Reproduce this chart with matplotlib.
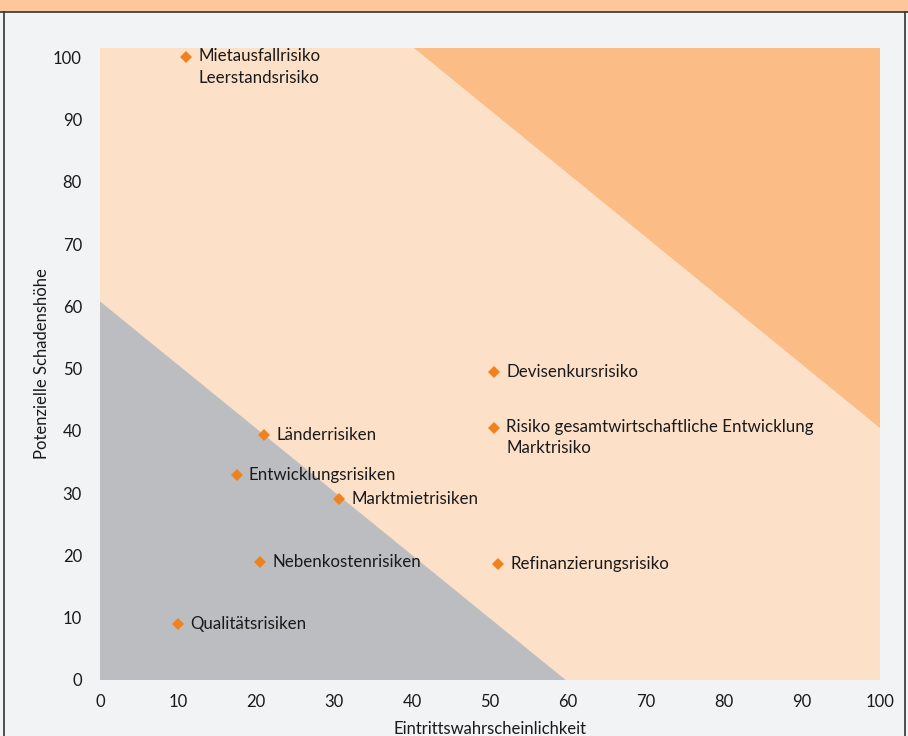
import matplotlib.pyplot as plt
from matplotlib.patches import Polygon, Rectangle
from matplotlib.lines import Line2D

# Risk matrix data
labels = [
    "Mietausfallrisiko\nLeerstandsrisiko",
    "Devisenkursrisiko",
    "Risiko gesamtwirtschaftliche Entwicklung\nMarktrisiko",
    "Länderrisiken",
    "Entwicklungsrisiken",
    "Marktmietrisiken",
    "Nebenkostenrisiken",
    "Refinanzierungsrisiko",
    "Qualitätsrisiken",
]
probability = [11, 50.5, 50.5, 21, 17.5, 30.7, 20.5, 51, 10]
damage = [100, 49.5, 40.5, 39.3, 33, 29, 19, 18.7, 9]

x_ticks = [0, 10, 20, 30, 40, 50, 60, 70, 80, 90, 100]
y_ticks = [0, 10, 20, 30, 40, 50, 60, 70, 80, 90, 100]

plt.rcParams['font.family'] = ['Lato', 'DejaVu Sans']

BG = "#f2f3f5"
PALE = "#fde0c8"
DARK = "#fbbc86"
GRAY = "#bcbdc1"
MARK = "#f0821e"
HEAD = "#fdc79b"
TXT = "#1a1a1a"

fig = plt.figure(figsize=(9.08, 7.36), dpi=100, facecolor=BG)
ax = fig.add_axes([100 / 908, 1 - 680 / 736, 780 / 908, 632 / 736])
ax.set_facecolor(PALE)
YMAX = 101.5
ax.set_xlim(0, 100)
ax.set_ylim(0, YMAX)

# Risk zones
ax.add_patch(Polygon([(40.2, YMAX), (100, YMAX), (100, 40.5)], closed=True,
                     facecolor=DARK, edgecolor="none", zorder=1))
ax.add_patch(Polygon([(0, 0), (0, 60.8), (59.7, 0)], closed=True,
                     facecolor=GRAY, edgecolor="none", zorder=1))

ax.plot(probability, damage, linestyle="none", marker="D", markersize=6,
        color=MARK, markeredgewidth=0, zorder=3)
for x, y, t in zip(probability, damage, labels):
    multi = "\n" in t
    ax.annotate(t, (x, y), xytext=(9, 6.5 if multi else 0), textcoords="offset points",
                ha="left", va="top" if multi else "center",
                fontsize=12.2, color=TXT, zorder=4, linespacing=1.4)

for s in ax.spines.values():
    s.set_visible(False)
ax.set_xticks(x_ticks)
ax.set_yticks(y_ticks)
ax.tick_params(length=0, labelsize=12, colors=TXT)
ax.tick_params(axis="x", pad=10)
ax.tick_params(axis="y", pad=13)
ax.set_xlabel("Eintrittswahrscheinlichkeit", fontsize=12, color=TXT, labelpad=8)
ax.set_ylabel("Potenzielle Schadenshöhe", fontsize=12, color=TXT)
ax.yaxis.set_label_coords(-0.064, 0.5)

# Header band and frame
fig.patches.append(Rectangle((0, 1 - 12 / 736), 1, 12 / 736, transform=fig.transFigure,
                             facecolor=HEAD, edgecolor="none", zorder=0))
fig.lines.append(Line2D([0, 1], [1 - 12 / 736] * 2, transform=fig.transFigure,
                        color="#333333", linewidth=1.2))
fig.lines.append(Line2D([4 / 908] * 2, [0, 1 - 12 / 736], transform=fig.transFigure,
                        color="#333333", linewidth=1.2))
fig.lines.append(Line2D([905 / 908] * 2, [0, 1 - 12 / 736], transform=fig.transFigure,
                        color="#333333", linewidth=1.2))

fig.savefig("out.png", dpi=100, facecolor=BG)
